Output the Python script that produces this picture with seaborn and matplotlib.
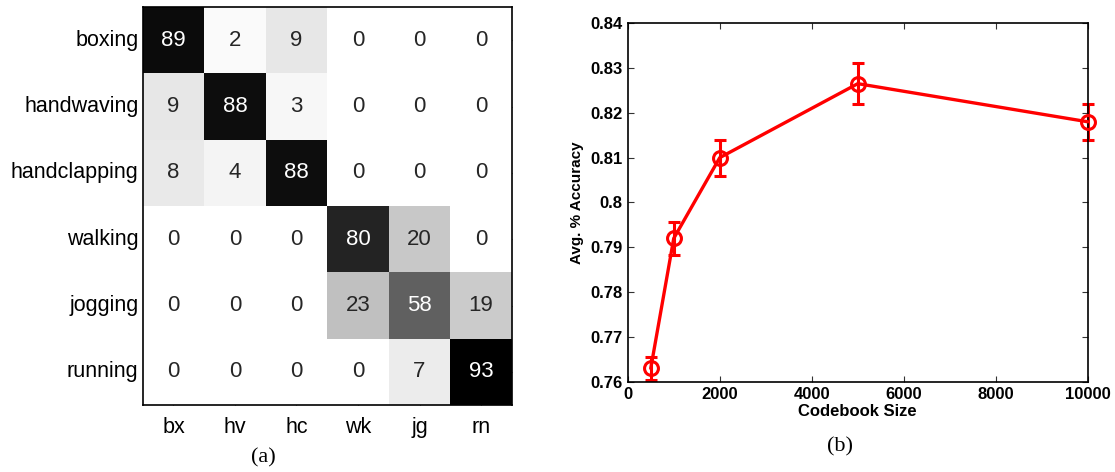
import numpy as np
import pandas as pd
import matplotlib
matplotlib.use("Agg")
import matplotlib.pyplot as plt
import seaborn as sns
from matplotlib.ticker import FormatStrFormatter

# ---- data ----
row_labels = ["boxing", "handwaving", "handclapping", "walking", "jogging", "running"]
col_labels = ["bx", "hv", "hc", "wk", "jg", "rn"]
conf_boxing = [89, 2, 9, 0, 0, 0]
conf_handwaving = [9, 88, 3, 0, 0, 0]
conf_handclapping = [8, 4, 88, 0, 0, 0]
conf_walking = [0, 0, 0, 80, 20, 0]
conf_jogging = [0, 0, 0, 23, 58, 19]
conf_running = [0, 0, 0, 0, 7, 93]

codebook_size = [500, 1000, 2000, 5000, 10000]
avg_accuracy = [0.763, 0.792, 0.810, 0.8265, 0.818]
accuracy_err = [0.0025, 0.0037, 0.004, 0.0045, 0.004]

x_ticks = [0, 2000, 4000, 6000, 8000, 10000]
y_ticks = [0.76, 0.77, 0.78, 0.79, 0.80, 0.81, 0.82, 0.83, 0.84]

sns.set_theme(style="white")
plt.rcParams['font.family'] = ['Liberation Sans', 'DejaVu Sans']
plt.rcParams['text.color'] = 'black'
plt.rcParams['axes.labelcolor'] = 'black'
plt.rcParams['xtick.color'] = 'black'
plt.rcParams['ytick.color'] = 'black'

fig = plt.figure(figsize=(11.15, 4.72), dpi=100)

# ---- (a) confusion matrix ----
conf = pd.DataFrame([conf_boxing, conf_handwaving, conf_handclapping,
                     conf_walking, conf_jogging, conf_running],
                    index=row_labels, columns=col_labels)
ax1 = fig.add_axes([0.128, 0.142, 0.331, 0.843])
sns.heatmap(conf, ax=ax1, cmap="gray_r", vmin=0, vmax=93, cbar=False,
            annot=True, fmt="d", annot_kws={"fontsize": 16},
            linewidths=0, square=False)
for sp in ax1.spines.values():
    sp.set_visible(True)
    sp.set_color("black")
    sp.set_linewidth(1.2)
ax1.tick_params(axis="both", direction="in", length=3, width=0.8, color="#333333",
                labelsize=15.5, labelcolor="black", top=True, right=True,
                bottom=True, left=True, labeltop=False, labelright=False, pad=3)
ax1.tick_params(axis="x", pad=9)
ax1.set_yticklabels(row_labels, rotation=0)
ax1.set_xticklabels(col_labels, rotation=0)
ax1.set_xlabel("")
ax1.set_ylabel("")

# ---- (b) accuracy vs codebook size ----
ax2 = fig.add_axes([0.563, 0.191, 0.4126, 0.760])
df = pd.DataFrame({"size": codebook_size, "acc": avg_accuracy, "err": accuracy_err})
eb = ax2.errorbar(df["size"], df["acc"], yerr=df["err"], fmt="none", ecolor="red",
                  elinewidth=2.2, capsize=4, capthick=2.2, zorder=2)
for art in eb.lines[1] + eb.lines[2]:
    art.set_clip_on(False)
sns.lineplot(data=df, x="size", y="acc", ax=ax2, color="red", linewidth=2.4,
             marker="o", markersize=10, markerfacecolor="none",
             markeredgecolor="red", markeredgewidth=2.2, zorder=3)
for ln in ax2.lines:
    ln.set_clip_on(False)
ax2.set_xlim(0, 10000)
ax2.set_ylim(0.76, 0.84)
ax2.set_xticks(x_ticks)
ax2.set_yticks(y_ticks)
ax2.yaxis.set_major_formatter(FormatStrFormatter("%g"))
ax2.xaxis.set_major_formatter(FormatStrFormatter("%g"))
for sp in ax2.spines.values():
    sp.set_visible(True)
    sp.set_color("black")
    sp.set_linewidth(1.2)
ax2.tick_params(axis="both", direction="in", length=4, width=0.8, color="#333333",
                labelsize=12, labelcolor="black", top=True, right=True,
                bottom=True, left=True, pad=4)
for lbl in ax2.get_xticklabels() + ax2.get_yticklabels():
    lbl.set_fontweight("bold")
ax2.set_xlabel("Codebook Size", fontsize=12, fontweight="bold", labelpad=1)
ax2.set_ylabel("Avg. % Accuracy", fontsize=11, fontweight="bold", labelpad=4)

# ---- captions ----
fig.text(0.236, 0.03, "(a)", ha="center", va="center", fontsize=16,
         family=["Liberation Serif", "DejaVu Serif"])
fig.text(0.753, 0.054, "(b)", ha="center", va="center", fontsize=16,
         family=["Liberation Serif", "DejaVu Serif"])

fig.savefig("out.png", dpi=100)
